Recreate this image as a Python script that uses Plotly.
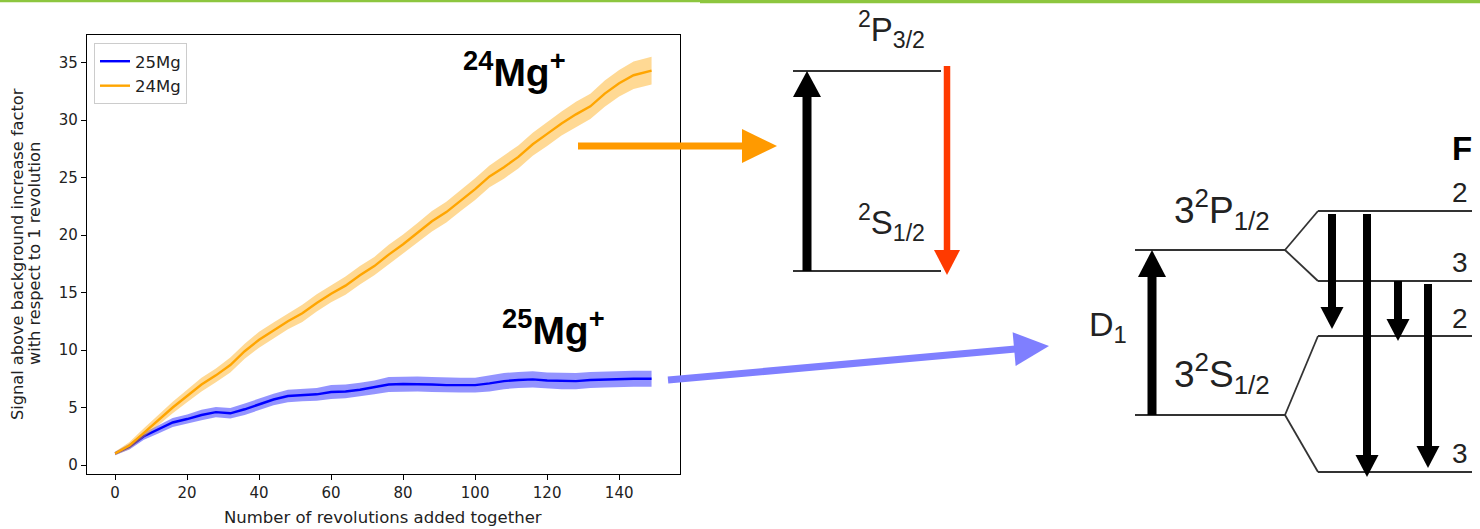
import math
import plotly.graph_objects as go

W, H = 1480, 529

# ---------------- data ----------------
revolutions = [0, 4, 8, 12, 16, 20, 24, 28, 32, 36, 40, 44, 48, 52, 56, 60, 64, 68, 72,
               76, 80, 84, 88, 92, 96, 100, 104, 108, 112, 116, 120, 124, 128, 132, 136,
               140, 144, 149]
mg24 = [1.0, 1.7, 2.8, 3.9, 5.0, 6.0, 7.0, 7.8, 8.7, 9.9, 10.9, 11.7, 12.5, 13.2, 14.1,
        14.9, 15.6, 16.5, 17.3, 18.3, 19.2, 20.2, 21.2, 22.0, 23.0, 24.0, 25.1, 25.9,
        26.8, 27.9, 28.8, 29.7, 30.5, 31.2, 32.3, 33.2, 33.9, 34.3]
mg24_err = [0.15, 0.3, 0.4, 0.45, 0.5, 0.55, 0.6, 0.6, 0.65, 0.65, 0.7, 0.7, 0.7, 0.75,
            0.75, 0.75, 0.8, 0.8, 0.8, 0.85, 0.85, 0.85, 0.9, 0.9, 0.9, 0.95, 0.95, 1.0,
            1.0, 1.0, 1.05, 1.05, 1.1, 1.1, 1.15, 1.15, 1.2, 1.2]
mg25 = [1.0, 1.6, 2.5, 3.1, 3.7, 4.0, 4.35, 4.6, 4.5, 4.85, 5.3, 5.7, 6.0, 6.1, 6.15,
        6.35, 6.4, 6.55, 6.75, 7.0, 7.05, 7.05, 7.0, 6.95, 6.95, 6.95, 7.1, 7.3, 7.4,
        7.45, 7.35, 7.3, 7.3, 7.4, 7.45, 7.5, 7.5, 7.5]
mg25_err = [0.15, 0.25, 0.3, 0.35, 0.4, 0.4, 0.45, 0.45, 0.45, 0.5, 0.5, 0.5, 0.55, 0.55,
            0.55, 0.6, 0.6, 0.6, 0.6, 0.65, 0.65, 0.65, 0.65, 0.65, 0.65, 0.65, 0.7, 0.7,
            0.7, 0.7, 0.7, 0.7, 0.7, 0.7, 0.7, 0.7, 0.7, 0.7]
x_ticks = [0, 20, 40, 60, 80, 100, 120, 140]
y_ticks = [0, 5, 10, 15, 20, 25, 30, 35]

# ---------------- helpers (pixel -> paper) ----------------
def X(px):
    return px / W

def Y(py):
    return 1 - py / H

shapes = []
annotations = []

def seg(x0, y0, x1, y1, color="#333333", w=1.8):
    shapes.append(dict(type="line", xref="paper", yref="paper",
                       x0=X(x0), y0=Y(y0), x1=X(x1), y1=Y(y1),
                       line=dict(color=color, width=w)))

def arrow(x0, y0, x1, y1, sw, hl, hw, color):
    dx, dy = x1 - x0, y1 - y0
    L = math.hypot(dx, dy)
    ux, uy = dx / L, dy / L
    bx, by = x1 - ux * hl, y1 - uy * hl
    seg(x0, y0, bx + ux * 1.5, by + uy * 1.5, color, sw)
    px, py = -uy, ux
    pts = [(x1, y1), (bx + px * hw / 2, by + py * hw / 2), (bx - px * hw / 2, by - py * hw / 2)]
    path = "M" + " L".join(f"{X(a):.6f},{Y(b):.6f}" for a, b in pts) + " Z"
    shapes.append(dict(type="path", xref="paper", yref="paper", path=path,
                       fillcolor=color, line=dict(color=color, width=0)))

def text(x, y, s, size, color="#222222", family="Liberation Sans, Arial, sans-serif",
         angle=0, xanchor="center", yanchor="middle"):
    annotations.append(dict(xref="paper", yref="paper", x=X(x), y=Y(y), text=s,
                            showarrow=False, textangle=angle, xanchor=xanchor,
                            yanchor=yanchor, font=dict(size=size, color=color, family=family)))

# ---------------- chart ----------------
fig = go.Figure()

def band(x, y, e, fillcolor):
    upper = [a + b for a, b in zip(y, e)]
    lower = [a - b for a, b in zip(y, e)]
    fig.add_trace(go.Scatter(x=x + x[::-1], y=upper + lower[::-1], fill="toself",
                             fillcolor=fillcolor, line=dict(width=0), mode="lines",
                             showlegend=False, hoverinfo="skip"))

band(revolutions, mg25, mg25_err, "rgba(0,0,255,0.42)")
fig.add_trace(go.Scatter(x=revolutions, y=mg25, mode="lines", name="25Mg",
                         line=dict(color="#0000ff", width=2.4)))
band(revolutions, mg24, mg24_err, "rgba(255,165,0,0.42)")
fig.add_trace(go.Scatter(x=revolutions, y=mg24, mode="lines", name="24Mg",
                         line=dict(color="#ffa500", width=2.4)))

axis_common = dict(showline=True, linecolor="black", linewidth=1.2, mirror=True,
                   ticks="outside", ticklen=5, tickwidth=1.2, tickcolor="black",
                   showgrid=False, zeroline=False,
                   tickfont=dict(family="DejaVu Sans", size=15, color="#222222"))

fig.update_layout(
    width=W, height=H,
    margin=dict(l=0, r=0, t=0, b=0, pad=0),
    paper_bgcolor="white", plot_bgcolor="white",
    font=dict(family="DejaVu Sans", color="#222222"),
    xaxis=dict(domain=[X(87), X(680)], range=[-7.8, 156.9], tickvals=x_ticks,
               **axis_common),
    yaxis=dict(domain=[Y(474), Y(35)], range=[-0.78, 37.4], tickvals=y_ticks,
               **axis_common),
    legend=dict(x=X(94), y=Y(43), xanchor="left", yanchor="top",
                bgcolor="white", bordercolor="#cccccc", borderwidth=1,
                font=dict(family="DejaVu Sans", size=16.5, color="#222222"),
                traceorder="normal", itemwidth=30, tracegroupgap=0),
    showlegend=True,
)

# axis titles
text(383, 517, "Number of revolutions added together", 16.5, family="DejaVu Sans")
text(18, 254, "Signal above background increase factor", 16.2, family="DejaVu Sans", angle=-90)
text(35, 254, "with respect to 1 revolution", 16.2, family="DejaVu Sans", angle=-90)

# top green rule
seg(0, 1, 700, 1, "#8dc63f", 2.5)
seg(700, 1.5, 1480, 1.5, "#8dc63f", 3.5)

# isotope labels
text(514, 70, "<b><sup>24</sup>Mg<sup>+</sup></b>", 39, color="black")
text(553, 327, "<b><sup>25</sup>Mg<sup>+</sup></b>", 39, color="black")

# connecting arrows
arrow(578, 146, 777, 146, 7, 35, 34, "#ff9a00")
arrow(668, 380, 1049, 346, 7, 35, 34, "#7f7fff")

# ---------------- 24Mg+ level diagram ----------------
seg(793, 71, 941, 71)
seg(793, 271, 941, 271)
arrow(807, 271, 807, 71, 9, 26, 28, "black")
arrow(947, 66, 947, 275, 6.5, 25, 26, "#ff3a00")
text(891, 30, "<sup>2</sup>P<sub>3/2</sub>", 33)
text(891, 222, "<sup>2</sup>S<sub>1/2</sub>", 33)

# ---------------- 25Mg+ level diagram ----------------
seg(1135, 250, 1285, 250)
seg(1285, 250, 1318, 211)
seg(1285, 250, 1318, 281)
seg(1318, 211, 1472, 211)
seg(1318, 281, 1472, 281)
seg(1135, 415, 1285, 415)
seg(1285, 415, 1318, 336)
seg(1285, 415, 1318, 472)
seg(1318, 336, 1472, 336)
seg(1318, 472, 1472, 472)

arrow(1152, 415, 1152, 250, 9, 27, 28, "black")
arrow(1332, 214, 1332, 329, 8, 22, 23, "black")
arrow(1367, 214, 1367, 477, 8, 22, 23, "black")
arrow(1398, 281, 1398, 341, 8, 22, 23, "black")
arrow(1428, 284, 1428, 468, 8, 22, 23, "black")

text(1222, 209, "3<sup>2</sup>P<sub>1/2</sub>", 37)
text(1222, 373, "3<sup>2</sup>S<sub>1/2</sub>", 37)
text(1108, 326, "D<sub>1</sub>", 34)
text(1462, 148, "<b>F</b>", 33, color="black")
text(1460, 192, "2", 28)
text(1460, 262, "3", 28)
text(1460, 318, "2", 28)
text(1460, 453, "3", 28)

fig.update_layout(shapes=shapes, annotations=annotations)
fig.write_html("out.html")
